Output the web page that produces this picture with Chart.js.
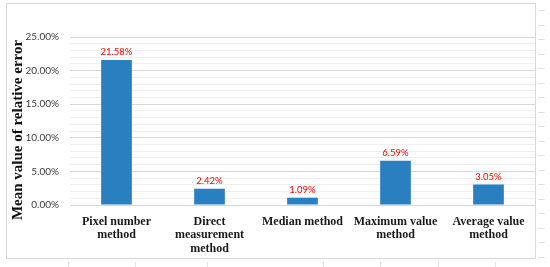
<!DOCTYPE html>
<html>
<head>
<meta charset="utf-8">
<script src="https://cdn.jsdelivr.net/npm/chart.js@4/dist/chart.umd.min.js"></script>
<style>
  html, body { margin: 0; padding: 0; background: #fff; }
  #wrap { width: 550px; height: 267px; position: relative; }
</style>
</head>
<body>
<div id="wrap"><canvas id="errorChart"></canvas></div>
<script>
const METHODS = [
  ['Pixel number', 'method'],
  ['Direct', 'measurement', 'method'],
  ['Median method'],
  ['Maximum value', 'method'],
  ['Average value', 'method'],
];
const MEAN_ERROR = [21.58, 2.42, 1.09, 6.59, 3.05];
const Y_TITLE = 'Mean value of relative error';

// frame around the whole figure, the rotated y title, and little ruler marks outside
const framePlugin = {
  id: 'frame',
  beforeDraw(chart) {
    const ctx = chart.ctx;
    ctx.save();
    ctx.strokeStyle = '#d9d9d9';
    ctx.lineWidth = 1;
    ctx.strokeRect(6.5, 3.5, 529, 255);
    ctx.strokeStyle = '#e3e3e3';
    for (let y = 10; y < 267; y += 14.5) {
      ctx.beginPath();
      ctx.moveTo(538, Math.round(y) + 0.5);
      ctx.lineTo(545, Math.round(y) + 0.5);
      ctx.stroke();
    }
    [68, 135, 207, 323, 380, 438, 495].forEach((x) => {
      ctx.beginPath();
      ctx.moveTo(x + 0.5, 262);
      ctx.lineTo(x + 0.5, 267);
      ctx.stroke();
    });
    // y title
    ctx.translate(18, 130);
    ctx.rotate(-Math.PI / 2);
    ctx.fillStyle = '#111';
    ctx.font = 'bold 15px "Liberation Serif", serif';
    ctx.textAlign = 'center';
    ctx.textBaseline = 'middle';
    ctx.fillText(Y_TITLE, 0, 0);
    ctx.restore();
  },
};

const valueLabels = {
  id: 'valueLabels',
  afterDatasetsDraw(chart) {
    const ctx = chart.ctx;
    const meta = chart.getDatasetMeta(0);
    ctx.save();
    ctx.fillStyle = '#ff0000';
    ctx.font = '9.5px Lato, "Liberation Sans", sans-serif';
    ctx.textAlign = 'center';
    ctx.textBaseline = 'middle';
    meta.data.forEach((bar, i) => {
      ctx.fillText(MEAN_ERROR[i].toFixed(2) + '%', bar.x, bar.y - 8);
    });
    ctx.restore();
  },
};

new Chart(document.getElementById('errorChart'), {
  type: 'bar',
  data: {
    labels: METHODS,
    datasets: [{
      data: MEAN_ERROR,
      backgroundColor: '#2a7fc1',
      borderWidth: 0,
      categoryPercentage: 1,
      barPercentage: 0.33,
    }],
  },
  options: {
    responsive: true,
    maintainAspectRatio: false,
    animation: false,
    layout: { padding: { left: 0, top: 37, right: 15, bottom: 9 } },
    plugins: {
      legend: { display: false },
      tooltip: { enabled: false },
    },
    scales: {
      x: {
        grid: { display: false },
        border: { display: false },
        ticks: {
          color: '#1a1a1a',
          font: { family: '"Liberation Serif", serif', size: 12, weight: 'bold', lineHeight: 1.12 },
          maxRotation: 0,
          autoSkip: false,
          padding: 2,
        },
        afterFit(scale) { scale.height = 53; },
      },
      y: {
        min: 0,
        max: 25,
        border: { display: false },
        grid: {
          color: (c) => (c.tick && c.tick.value % 5 === 0 ? '#d9d9d9' : '#efefef'),
          drawTicks: false,
        },
        ticks: {
          stepSize: 1,
          autoSkip: false,
          padding: 11,
          color: '#404040',
          font: { family: 'Lato, "Liberation Sans", sans-serif', size: 10 },
          callback: (v) => (v % 5 === 0 ? v.toFixed(2) + '%' : ''),
        },
        afterFit(scale) { scale.width = 70; },
      },
    },
  },
  plugins: [framePlugin, valueLabels],
});
</script>
</body>
</html>
